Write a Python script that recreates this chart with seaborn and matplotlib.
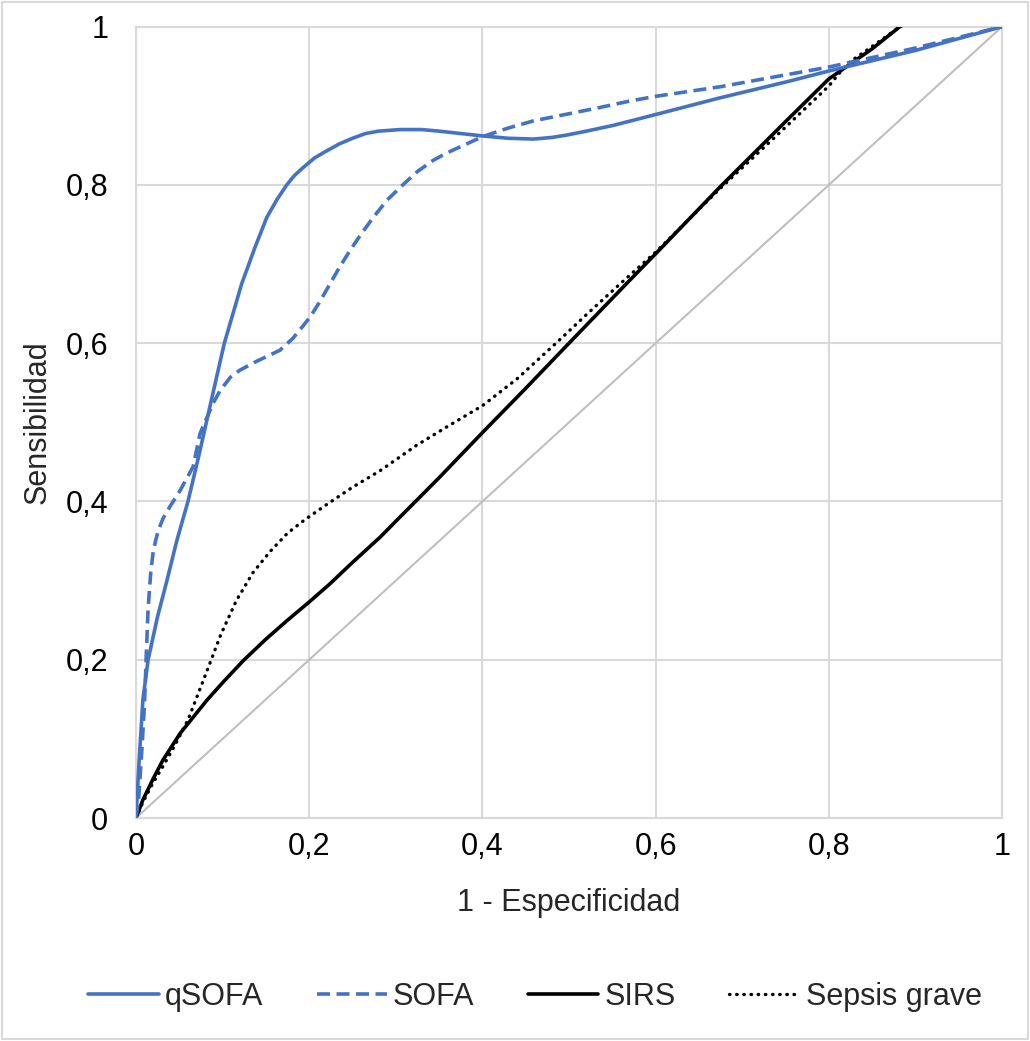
import matplotlib
matplotlib.use("Agg")
import matplotlib.pyplot as plt
import seaborn as sns
from matplotlib.ticker import FuncFormatter, MultipleLocator
from matplotlib.patches import Rectangle

# ---- data ----
qsofa_x = [0, 0.004, 0.008, 0.014, 0.025, 0.035, 0.047, 0.06, 0.073, 0.087, 0.102, 0.122,
           0.137, 0.151, 0.163, 0.174, 0.183, 0.193, 0.206, 0.22, 0.235, 0.25, 0.265, 0.28,
           0.305, 0.33, 0.35, 0.375, 0.4, 0.43, 0.459, 0.48, 0.497, 0.52, 0.55,
           0.6, 0.674, 0.75, 0.8, 0.9, 1.0]
qsofa_y = [0, 0.08, 0.15, 0.2, 0.255, 0.297, 0.35, 0.4, 0.46, 0.528, 0.6, 0.675,
           0.72, 0.759, 0.782, 0.8, 0.812, 0.822, 0.834, 0.843, 0.852, 0.859, 0.865, 0.868,
           0.870, 0.870, 0.868, 0.865, 0.862, 0.859, 0.858, 0.860, 0.863, 0.868, 0.875,
           0.889, 0.910, 0.930, 0.944, 0.97, 1.0]

sofa_x = [0, 0.003, 0.007, 0.010, 0.012, 0.014, 0.017, 0.02, 0.023, 0.026, 0.031, 0.035,
          0.04, 0.051, 0.066, 0.074, 0.089, 0.097, 0.109, 0.12, 0.139, 0.166, 0.181, 0.19,
          0.201, 0.212, 0.224, 0.235, 0.247, 0.26, 0.274, 0.29, 0.309, 0.325, 0.343, 0.358,
          0.374, 0.4, 0.43, 0.459, 0.5, 0.536, 0.57, 0.6, 0.674, 0.8, 0.9, 1.0]
sofa_y = [0, 0.023, 0.09, 0.149, 0.21, 0.265, 0.31, 0.338, 0.352, 0.364, 0.378, 0.386,
          0.395, 0.414, 0.444, 0.486, 0.524, 0.540, 0.557, 0.566, 0.577, 0.591, 0.606, 0.618,
          0.633, 0.652, 0.675, 0.696, 0.717, 0.738, 0.759, 0.781, 0.801, 0.817, 0.831, 0.840,
          0.848, 0.861, 0.872, 0.881, 0.890, 0.898, 0.906, 0.912, 0.924, 0.949, 0.973, 1.0]

sirs_x = [0, 0.008, 0.02, 0.031, 0.051, 0.082, 0.1, 0.124, 0.15, 0.175, 0.2, 0.224, 0.25,
          0.282, 0.3, 0.35, 0.4, 0.45, 0.5, 0.567, 0.6, 0.674, 0.75, 0.8, 0.85, 0.882,
          0.93, 0.96, 0.98, 1.0]
sirs_y = [0, 0.023, 0.05, 0.073, 0.107, 0.149, 0.171, 0.199, 0.226, 0.250, 0.273, 0.296, 0.323,
          0.355, 0.375, 0.43, 0.487, 0.543, 0.600, 0.676, 0.713, 0.797, 0.880, 0.934, 0.972,
          1.0, 1.03, 1.025, 1.005, 1.0]

sepsis_x = [0, 0.008, 0.02, 0.031, 0.045, 0.06, 0.07, 0.082, 0.098, 0.116, 0.135, 0.155,
            0.175, 0.195, 0.22, 0.25, 0.282, 0.324, 0.36, 0.4, 0.44, 0.486, 0.52, 0.559,
            0.6, 0.674, 0.75, 0.8, 0.821, 0.85, 0.882, 0.93, 0.96, 0.98, 1.0]
sepsis_y = [0, 0.02, 0.045, 0.065, 0.092, 0.124, 0.152, 0.186, 0.232, 0.275, 0.31, 0.337,
            0.36, 0.377, 0.396, 0.418, 0.439, 0.471, 0.495, 0.521, 0.555, 0.601, 0.636, 0.675,
            0.715, 0.795, 0.873, 0.925, 0.953, 0.975, 1.0, 1.03, 1.025, 1.005, 1.0]

diag_x = [0, 1]
diag_y = [0, 1]

x_label = "1 - Especificidad"
y_label = "Sensibilidad"

# ---- styling ----
sns.set_theme(style="white")
plt.rcParams['font.family'] = ['Liberation Sans', 'DejaVu Sans']

BLUE = "#4472C4"
GRID = "#d9d9d9"
FS = 22

fig = plt.figure(figsize=(10.30, 10.41), dpi=100)
ax = fig.add_axes([136 / 1030, 1 - 818 / 1041, (1002 - 136) / 1030, (818 - 26.7) / 1041])

lw = 2.6
sns.lineplot(x=diag_x, y=diag_y, ax=ax, color="#bfbfbf", linewidth=1.5, sort=False,
             estimator=None, zorder=2)
sns.lineplot(x=qsofa_x, y=qsofa_y, ax=ax, color=BLUE, linewidth=lw, sort=False,
             estimator=None, label="qSOFA", zorder=5)
sns.lineplot(x=sofa_x, y=sofa_y, ax=ax, color=BLUE, linewidth=lw, sort=False,
             estimator=None, label="SOFA", zorder=4)
sns.lineplot(x=sirs_x, y=sirs_y, ax=ax, color="black", linewidth=lw, sort=False,
             estimator=None, label="SIRS", zorder=3)
sns.lineplot(x=sepsis_x, y=sepsis_y, ax=ax, color="black", linewidth=2.4, sort=False,
             estimator=None, label="Sepsis grave", zorder=3)

lines = ax.get_lines()
lines[2].set_dashes((3.6, 1.8))
lines[4].set_dashes((0.15, 2.0))
lines[4].set_dash_capstyle("round")
for ln in lines:
    ln.set_solid_joinstyle("round")
    ln.set_dash_joinstyle("round")

ax.set_xlim(0, 1)
ax.set_ylim(0, 1)
ax.xaxis.set_major_locator(MultipleLocator(0.2))
ax.yaxis.set_major_locator(MultipleLocator(0.2))


def fmt(v, pos):
    if abs(v) < 1e-9:
        return "0"
    if abs(v - 1) < 1e-9:
        return "1"
    return ("%.1f" % v).replace(".", ",")


ax.xaxis.set_major_formatter(FuncFormatter(fmt))
ax.yaxis.set_major_formatter(FuncFormatter(fmt))
ax.grid(True, color=GRID, lw=1.5)
ax.set_axisbelow(True)
for s in ax.spines.values():
    s.set_color(GRID)
    s.set_linewidth(1.5)
ax.tick_params(axis="both", length=0, labelsize=FS, colors="black")
ax.tick_params(axis="y", pad=20)
ax.tick_params(axis="x", pad=10)

ax.set_xlabel(x_label, fontsize=FS, labelpad=19)
ax.set_ylabel(y_label, fontsize=FS, labelpad=9)

leg = ax.legend(loc="center", bbox_to_anchor=(535 / 1030, 1 - 997 / 1041),
                bbox_transform=fig.transFigure, ncol=4, frameon=False, fontsize=FS,
                handlelength=2.3, handletextpad=0.2, columnspacing=1.75)

fig.patches.append(Rectangle((2 / 1030, 2 / 1041), 1 - 4 / 1030, 1 - 4 / 1041,
                             transform=fig.transFigure, fill=False,
                             edgecolor=GRID, lw=1.5))

fig.savefig("out.png", dpi=100, facecolor="white")
